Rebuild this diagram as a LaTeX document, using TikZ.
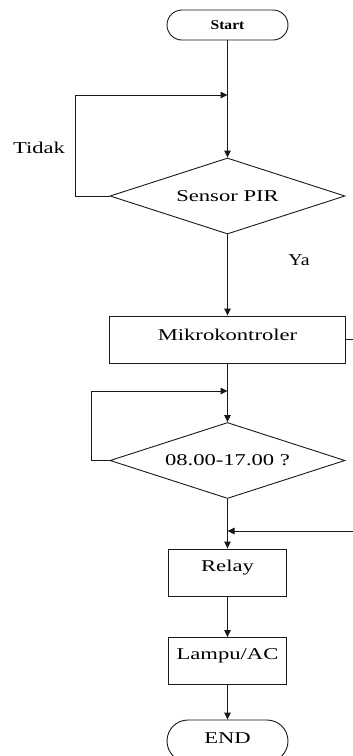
\documentclass[tikz,border=0pt]{standalone}
\usepackage{fontspec}
\usepackage{graphicx}
\setmainfont{Liberation Serif}
\usetikzlibrary{shapes.geometric,shapes.misc,arrows.meta}
\newcommand{\wtxt}[1]{\scalebox{1.37}[1]{#1}}
\tikzset{
  base/.style={draw=black!90, line width=0.9pt, inner sep=0pt},
  term/.style={base, rounded rectangle, minimum width=121pt},
  proc/.style={base, rectangle, minimum height=47pt},
  dec/.style={base, diamond, aspect=3.09, minimum width=235pt, minimum height=76pt},
  txt/.style={font=\fontsize{16.5}{18}\selectfont, inner sep=0pt},
  arr/.style={draw=black!90, line width=0.9pt, -{Triangle[length=7pt,width=6.5pt]}},
}
\begin{document}
\begin{tikzpicture}[x=1pt,y=-1pt]
\clip (0,0) rectangle (353,756);
\fill[white] (0,0) rectangle (353,756);
\node[term, minimum height=30pt,
  label={[inner sep=0pt,font=\fontsize{13.5}{15}\selectfont\bfseries]center:\scalebox{1.15}[1]{Start}}] (start) at (227.5,25) {};
\node[dec, label={[txt]center:\wtxt{Sensor PIR}}] (d1) at (227.5,196) {};
\node[proc, minimum width=236pt, label={[txt,yshift=5pt]center:\wtxt{Mikrokontroler}}] (mk) at (227.5,339.5) {};
\node[dec, label={[txt]center:\wtxt{08.00-17.00 ?}}] (d2) at (227.5,460.5) {};
\node[proc, minimum width=118pt, label={[txt,yshift=4.5pt]center:\wtxt{Relay}}] (relay) at (227.5,572.5) {};
\node[proc, minimum width=118pt, label={[txt,yshift=5pt]center:\wtxt{Lampu/AC}}] (lamp) at (227.5,661) {};
\node[term, minimum height=42pt, label={[txt,yshift=3pt]center:\wtxt{END}}] (end) at (227.5,741) {};
\node[txt] (tidak) at (39,148) {\wtxt{Tidak}};
\node[txt] (ya) at (299,260) {\scalebox{1.2}[1]{Ya}};
\coordinate (j1) at (227.5,95);
\coordinate (j2) at (227.5,391);
\coordinate (j3) at (227.5,531);
\draw[arr] (start) -- (d1);
\draw[arr] (d1.west) -- ++(-34,0) |- (j1);
\draw[arr] (d1) -- (mk);
\draw[arr] (mk) -- (d2);
\draw[arr] (d2.west) -- ++(-18,0) |- (j2);
\draw[arr] (mk.east) -- ++(30,0) |- (j3);
\draw[arr] (d2) -- (relay);
\draw[arr] (relay) -- (lamp);
\draw[arr] (lamp) -- (end);
\end{tikzpicture}
\end{document}
